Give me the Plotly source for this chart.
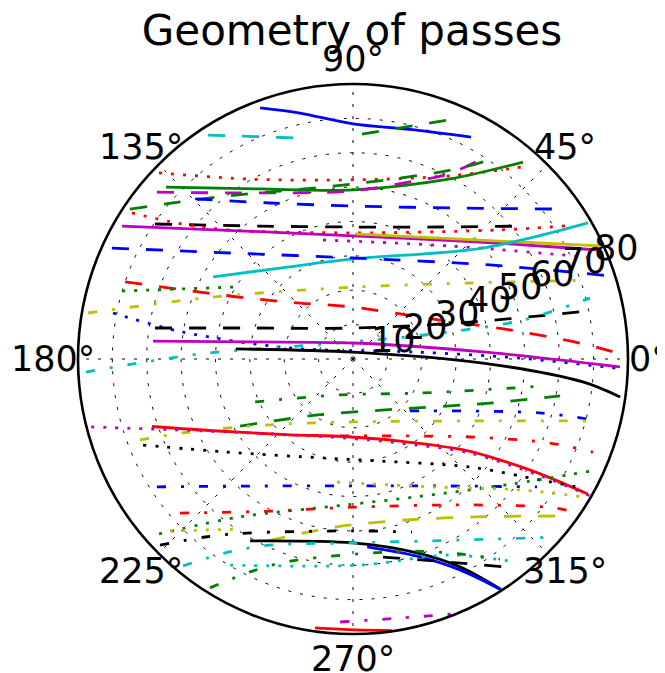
import math
import plotly.graph_objects as go

# ---- pass data: azimuth (deg) and radial value ----
P01_THETA = [110.3, 102.2, 90, 76.1, 62.0]
P01_R = [77.9, 73.2, 68.4, 68.8, 73.1]
P02_THETA = [122.9, 104.7]
P02_R = [77.6, 66.5]
P03_THETA = [87.7, 68.5]
P03_R = [65.5, 74.7]
P04_THETA = [136.2, 119.8, 90, 62.1, 47.5]
P04_R = [78.2, 60.3, 52.1, 60.3, 76.2]
P05_THETA = [137.4, 118.7, 90, 61.7, 49.2]
P05_R = [73.9, 56.4, 49.2, 59.5, 75.7]
P06_THETA = [139.6, 119.3, 90, 71.1, 62.8, 57.1]
P06_R = [74.9, 55.4, 48.9, 54.7, 60.5, 69.6]
P07_THETA = [146.1, 130.0, 90, 62.6, 55.5]
P07_R = [78.2, 61.5, 50.9, 61.9, 70.3]
P08_THETA = [134.6, 118.0, 90, 54.7, 35.0]
P08_R = [65.4, 51.4, 44.5, 53.8, 76.0]
P09_THETA = [145.7, 125.0, 90, 56.6, 38.0]
P09_R = [69.7, 47.2, 38.4, 46.0, 62.8]
P10_THETA = [146.55, 142.3, 134.3, 90, 41.3, 32.0]
P10_R = [77.1, 64.7, 52.5, 36.7, 56.9, 73.1]
P11_THETA = [150.1, 131.4, 90, 42.7, 24.1]
P11_R = [77.5, 49.7, 35.8, 50.2, 77.7]
P12_THETA = [89.1, 43.1, 24.6]
P12_R = [36.4, 50.6, 79.0]
P13_THETA = [104.15, 49.4, 22.5]
P13_R = [35.7, 43.3, 76.8]
P14_THETA = [149.6, 128.7, 90, 40.5, 30.06]
P14_R = [47.2, 33.9, 29.1, 49.7, 79.0]
P15_THETA = [155.3, 139.2, 90, 34.5, 17.9]
P15_R = [77.2, 47.2, 29.4, 48.3, 78.6]
P16_THETA = [161.3, 150.1, 133.4, 90, 24.1, 10.5, 4.0, 1.3]
P16_R = [70.0, 35.6, 22.4, 15.1, 27.7, 46.4, 66.2, 76.8]
P17_THETA = [163.6, 148.4]
P17_R = [70.0, 40.0]
P18_THETA = [170.15, 156.1, 90, 33.0, 18.4]
P18_R = [78.2, 44.5, 20.9, 40.6, 72.7]
P19_THETA = [169.15, 171.0, 170.1, 6.2, 0.3, 358.0]
P19_R = [71.1, 50.1, 18.6, 18.7, 48.6, 76.8]
P20_THETA = [171.1, 163.25, 90, 17.5, 11.4]
P20_R = [58.3, 31.3, 9.0, 35.7, 71.8]
P21_THETA = [182.8, 178.1, 166.2, 40.8, 15.6, 12.9, 14.4]
P21_R = [77.8, 44.5, 15.9, 8.5, 29.3, 50.7, 71.2]
P22_THETA = [174.9, 170.6, 90, 3.1, 358.3]
P22_R = [58.4, 30.4, 4.65, 37.9, 77.7]
P23_THETA = [175.1, 90, 358.2, 354.3, 351.9]
P23_R = [34.2, 2.0, 37.8, 67.2, 78.5]
P24_THETA = [203.7, 250.1, 333.1, 352.0]
P24_R = [31.1, 11.1, 21.9, 56.4]
P25_THETA = [210.7, 238.0, 299.6, 342.2, 349.9]
P25_R = [38.2, 19.2, 17.1, 41.9, 61.2]
P26_THETA = [317.6, 343.9, 345.9]
P26_R = [22.4, 56.6, 74.1]
P27_THETA = [213.1, 230.95, 270, 307.4, 325.2]
P27_R = [68.1, 47.6, 36.9, 46.5, 65.2]
P28_THETA = [200.8, 203.5, 216.9, 270, 332.1, 345.9]
P28_R = [66.3, 53.9, 32.0, 18.3, 38.5, 74.1]
P29_THETA = [260.4, 326.3, 336.9, 338.8]
P29_R = [22.7, 40.9, 62.3, 74.9]
P30_THETA = [198.56, 208.07, 230.2, 263.4, 298.8, 321.6, 326.0, 328.5, 330.1]
P30_R = [61.7, 44.5, 28.7, 22.7, 27.2, 43.1, 53.4, 64.1, 78.8]
P31_THETA = [194.55, 210.7, 263.5, 298.2, 321.0, 328.1, 330.0]
P31_R = [78.7, 41.6, 23.1, 27.7, 43.4, 64.4, 79.6]
P32_THETA = [202.3, 216.2, 254.7, 284.8, 317.05, 327.2, 330.7]
P32_R = [66.0, 45.8, 29.9, 30.7, 46.1, 65.0, 76.7]
P33_THETA = [221.7, 241.4, 270, 308.7, 323.6, 325.6]
P33_R = [67.4, 50.4, 43.1, 54.4, 73.0, 79.3]
P34_THETA = [222.05, 234.4, 266.5, 294.2, 321.8, 334.7]
P34_R = [76.0, 56.5, 42.6, 44.0, 58.8, 76.3]
P35_THETA = [244.96, 263.9, 288.2, 307.9, 323.35]
P35_R = [58.4, 49.2, 49.3, 58.2, 76.5]
P36_THETA = [240.5, 270, 288.3, 297.2, 302.6]
P36_R = [60.8, 53.5, 59.4, 68.0, 79.4]
P37_THETA = [274.3, 288.0, 296.9, 302.7]
P37_R = [54.8, 60.3, 68.8, 79.8]
P38_THETA = [230.6, 237.3, 245.95, 270, 300.6, 318.9]
P38_R = [77.9, 66.7, 59.3, 53.5, 61.2, 78.8]
P39_THETA = [223.95, 230.3, 238.65, 270, 288.8]
P39_R = [78.0, 67.3, 59.3, 50.0, 53.2]
P40_THETA = [278.6, 295.5, 308.1]
P40_R = [58.3, 65.5, 77.3]
P41_THETA = [239.2, 272.0, 296.3, 308.6]
P41_R = [69.8, 60.0, 63.6, 75.6]
P42_THETA = [238.0, 244.2, 252.7, 286.5, 298.75, 306.3]
P42_R = [78.5, 68.8, 61.6, 58.3, 64.7, 72.2]
P43_THETA = [267.2, 280.3, 291.8]
P43_R = [76.6, 76.6, 79.8]
P44_THETA = [261.96, 270.4, 278.1]
P44_R = [79.0, 78.8, 79.8]
P45_THETA = [262.6, 302.0, 321.9, 329.04]
P45_R = [36.1, 43.9, 61.7, 78.0]
P46_THETA = [223.2, 236.4]
P46_R = [73.1, 59.4]

PASSES = [
    (P01_THETA, P01_R), (P02_THETA, P02_R), (P03_THETA, P03_R), (P04_THETA, P04_R),
    (P05_THETA, P05_R), (P06_THETA, P06_R), (P07_THETA, P07_R), (P08_THETA, P08_R),
    (P09_THETA, P09_R), (P10_THETA, P10_R), (P11_THETA, P11_R), (P12_THETA, P12_R),
    (P13_THETA, P13_R), (P14_THETA, P14_R), (P15_THETA, P15_R), (P16_THETA, P16_R),
    (P17_THETA, P17_R), (P18_THETA, P18_R), (P19_THETA, P19_R), (P20_THETA, P20_R),
    (P21_THETA, P21_R), (P22_THETA, P22_R), (P23_THETA, P23_R), (P24_THETA, P24_R),
    (P25_THETA, P25_R), (P26_THETA, P26_R), (P27_THETA, P27_R), (P28_THETA, P28_R),
    (P29_THETA, P29_R), (P30_THETA, P30_R), (P31_THETA, P31_R), (P32_THETA, P32_R),
    (P33_THETA, P33_R), (P34_THETA, P34_R), (P35_THETA, P35_R), (P36_THETA, P36_R),
    (P37_THETA, P37_R), (P38_THETA, P38_R), (P39_THETA, P39_R), (P40_THETA, P40_R),
    (P41_THETA, P41_R), (P42_THETA, P42_R), (P43_THETA, P43_R), (P44_THETA, P44_R),
    (P45_THETA, P45_R), (P46_THETA, P46_R),
]

# matplotlib-style colour letter and line style for each pass
STYLES = [
    ("b", "-"), ("c", "--"), ("g", "--"), ("r", ":"), ("g", "-"), ("m", "--"),
    ("g", "--"), ("b", "--"), ("k", "--"), ("r", ":"), ("m", "-"), ("y", "-"),
    ("m", ":"), ("c", "-"), ("b", "--"), ("r", "--"), ("g", ":"), ("y", "-."),
    ("b", ":"), ("k", "--"), ("c", "-."), ("m", "-"), ("k", "-"), ("g", "-."),
    ("g", "--"), ("b", "-."), ("b", "-."), ("y", "-."), ("r", "-."), ("r", "-"),
    ("m", ":"), ("k", ":"), ("r", "-."), ("g", ":"), ("y", "--"), ("k", "-"),
    ("b", "-"), ("c", "-."), ("k", "-."), ("k", "--"), ("c", ":"), ("g", "-."),
    ("m", "-."), ("r", "-"), ("y", ":"), ("y", ":"),
]

RADIAL_TICKS = [10, 20, 30, 40, 50, 60, 70, 80]
RADIAL_LABEL_ANGLE = 22.5
ANGLE_TICKS = [0, 45, 90, 135, 180, 225, 270, 315]
ANGLE_LABELS = ["0°", "45°", "90°", "135°", "180°", "225°", "270°", "315°"]
R_MAX = 80
ANGLE_LABEL_FACTOR = 1.09   # angle labels sit just outside the frame

COLORS = {"b": "#0000ff", "g": "#008000", "r": "#ff0000", "c": "#00bfbf",
          "m": "#bf00bf", "y": "#bfbf00", "k": "#000000"}
DASHES = {"-": "solid", "--": "17px,17px", "-.": "9px,15px,3px,15px", ":": "3px,9px"}
FONT = "DejaVu Sans"

fig = go.Figure()
for (th, rr), (c, ls) in zip(PASSES, STYLES):
    fig.add_trace(go.Scatterpolar(
        theta=th, r=rr, mode="lines",
        line=dict(color=COLORS[c], width=2.8, dash=DASHES[ls], shape="spline", smoothing=0.9),
        hoverinfo="skip", showlegend=False))

# polar plot area is square, centred in the paper region
annotations = []
for v in RADIAL_TICKS:
    f = 0.5 * v / R_MAX
    a = math.radians(RADIAL_LABEL_ANGLE)
    annotations.append(dict(
        x=0.5 + f * math.cos(a), y=0.5 + f * math.sin(a), xref="paper", yref="paper",
        text=str(v), showarrow=False, xanchor="center", yanchor="middle",
        xshift=9, yshift=6, font=dict(family=FONT, size=35, color="black")))
for ang, lab in zip(ANGLE_TICKS, ANGLE_LABELS):
    f = 0.5 * ANGLE_LABEL_FACTOR
    a = math.radians(ang)
    annotations.append(dict(
        x=0.5 + f * math.cos(a), y=0.5 + f * math.sin(a), xref="paper", yref="paper",
        text=lab, showarrow=False, xanchor="center", yanchor="middle",
        xshift=-4 if ang == 0 else 0,
        font=dict(family=FONT, size=35, color="black")))

fig.update_layout(
    width=665, height=673, autosize=False,
    margin=dict(l=70, r=45, t=76, b=47),
    paper_bgcolor="white", plot_bgcolor="white",
    title=dict(text="Geometry of passes", x=344 / 665, xanchor="center",
               y=1 - 22 / 673, yanchor="middle",
               font=dict(family=FONT, size=42, color="black")),
    annotations=annotations,
    polar=dict(
        domain=dict(x=[0, 1], y=[0, 1]),
        bgcolor="white",
        radialaxis=dict(range=[0, R_MAX], tickmode="array", tickvals=RADIAL_TICKS,
                        showticklabels=False, ticks="", showline=False,
                        gridcolor="black", gridwidth=1.2, griddash="3px,9px",
                        layer="below traces", angle=RADIAL_LABEL_ANGLE),
        angularaxis=dict(tickmode="array", tickvals=ANGLE_TICKS, showticklabels=False,
                         ticks="", showline=True, linecolor="black", linewidth=2.6,
                         gridcolor="black", gridwidth=1.2, griddash="3px,9px",
                         rotation=0, direction="counterclockwise", layer="above traces"),
    ),
)

fig.write_html("out.html")
